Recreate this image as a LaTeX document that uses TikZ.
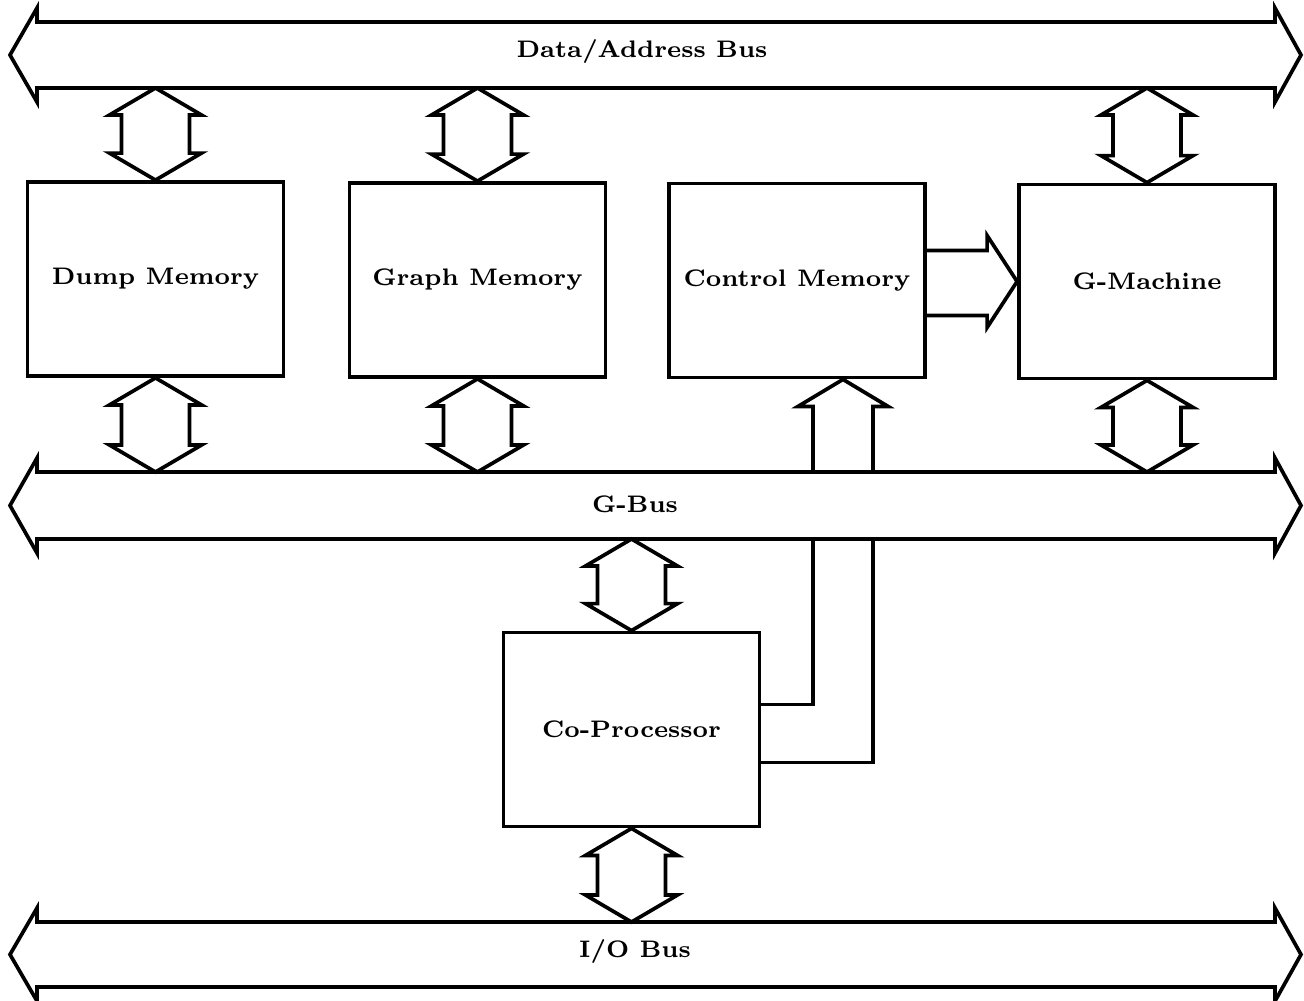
\documentclass[tikz,border=0pt]{standalone}
\usepackage{tikz}
\usetikzlibrary{calc}
\colorlet{wire}{black}
\newcommand\busarrow[2]{%
  \draw[fat] (37,#1) -- (1275,#1) -- (1275,{#1-14}) -- (1301,{(#1+#2)/2})
    -- (1275,{#2+14}) -- (1275,#2) -- (37,#2) -- (37,{#2+14})
    -- (10,{(#1+#2)/2}) -- (37,{#1-14}) -- cycle;}
\newcommand\updown[2]{%
  \path (#1) coordinate (u1) (#2) coordinate (u2);
  \draw[fat] (u1) -- ($(u1)+(46,27)$) -- ($(u1)+(34,27)$) -- ($(u2)+(34,-27)$)
    -- ($(u2)+(46,-27)$) -- (u2) -- ($(u2)+(-46,-27)$) -- ($(u2)+(-34,-27)$)
    -- ($(u1)+(-34,27)$) -- ($(u1)+(-46,27)$) -- cycle;}
\begin{document}
\begin{tikzpicture}[
  x=0.01cm, y=-0.01cm,
  fat/.style={
    draw=wire,
    line width=1.05pt,
    line join=miter,
  },
  unit/.style={
    draw=wire,
    line width=1.05pt,
    minimum width=2.56cm,
    minimum height=1.94cm,
    font=\fontsize{6.8}{8}\selectfont\bfseries,
  },
  buslabel/.style={
    font=\fontsize{6.8}{8}\selectfont\bfseries,
  }
]
\useasboundingbox (0,0) rectangle (1304,1000);
\busarrow{22}{88}
\busarrow{472}{539}
\busarrow{922}{987}
\node[buslabel] (da label) at (642,52) {Data/Address Bus};
\node[buslabel] (g label) at (635,504) {G-Bus};
\node[buslabel] (io label) at (635,952) {I/O Bus};
\coordinate (da bot) at (0,88);
\coordinate (g top) at (0,472);
\coordinate (g bot) at (0,539);
\coordinate (io top) at (0,922);
\node[unit] (dump) at (155.5,279) {Dump Memory};
\node[unit] (graph) at (477.5,280) {Graph Memory};
\node[unit] (ctrl) at (797,280.5) {Control Memory};
\node[unit] (gm) at (1147,281.5) {G-Machine};
\node[unit] (cp) at (631.5,729.5) {Co-Processor};
\foreach \b in {dump,graph,gm} {
  \updown{\b.north |- da bot}{\b.north}
  \updown{\b.south}{\b.south |- g top}
}
\updown{cp.north |- g bot}{cp.north}
\updown{cp.south}{cp.south |- io top}
\path (ctrl.east |- gm.west) coordinate (r1) (gm.west) coordinate (r2);
\draw[fat] ($(r1)+(0,-31)$) -- ($(r2)+(-30,-31)$) -- ($(r2)+(-30,-46)$) -- (r2)
  -- ($(r2)+(-30,46)$) -- ($(r2)+(-30,34)$) -- ($(r1)+(0,34)$);
\coordinate (up) at ($(ctrl.south)+(46,0)$);
\coordinate (up a) at (up |- g top);
\coordinate (up b) at (up |- g bot);
\draw[fat] ($(up a)+(-30,0)$) -- ($(up)+(-30,27)$) -- ($(up)+(-45,27)$) -- (up)
  -- ($(up)+(45,27)$) -- ($(up)+(30,27)$) -- ($(up a)+(30,0)$);
\draw[fat] ($(up b)+(-30,0)$) |- ($(cp.east)+(0,-25)$);
\draw[fat] ($(up b)+(30,0)$) |- ($(cp.east)+(0,33)$);
\end{tikzpicture}
\end{document}
